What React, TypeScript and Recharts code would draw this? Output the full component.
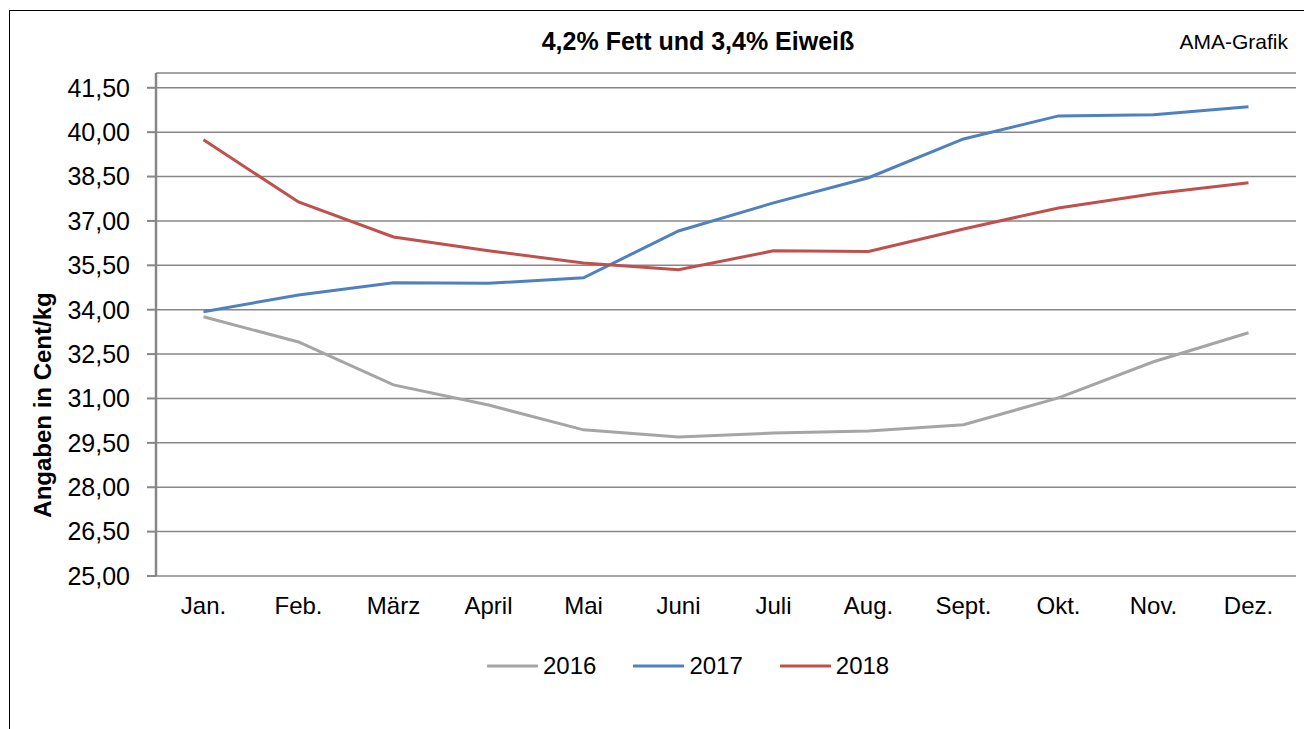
import React from "react";
import {
  LineChart,
  Line,
  XAxis,
  YAxis,
  CartesianGrid,
  Legend,
} from "recharts";

const months = ["Jan.", "Feb.", "März", "April", "Mai", "Juni", "Juli", "Aug.", "Sept.", "Okt.", "Nov.", "Dez."];

const values2016 = [33.76, 32.91, 31.46, 30.78, 29.94, 29.7, 29.83, 29.9, 30.11, 31.02, 32.24, 33.22];
const values2017 = [33.93, 34.5, 34.91, 34.89, 35.08, 36.66, 37.61, 38.46, 39.77, 40.55, 40.59, 40.86];
const values2018 = [39.74, 37.64, 36.46, 35.99, 35.58, 35.35, 35.99, 35.97, 36.73, 37.44, 37.92, 38.29];

const yTicks = [25, 26.5, 28, 29.5, 31, 32.5, 34, 35.5, 37, 38.5, 40, 41.5];
const yDomain = [25, 42];

const series = [
  { key: "2016", color: "#A5A5A5" },
  { key: "2017", color: "#4F81BD" },
  { key: "2018", color: "#C0504D" },
];

const data = months.map((m, i) => ({
  month: m,
  "2016": values2016[i],
  "2017": values2017[i],
  "2018": values2018[i],
}));

// band boundaries for the little x tick marks (0..12)
const boundaryTicks = [...months.map((_, i) => i), months.length];

const FONT = '"Liberation Sans", Arial, sans-serif';
const GRID = "#878787";

const fmt = (v: number) => v.toFixed(2).replace(".", ",");

const NoTick = () => <g />;

const YLabel = () => (
  <text
    x={42}
    y={405}
    transform="rotate(-90, 42, 405)"
    textAnchor="middle"
    dominantBaseline="central"
    fontFamily={FONT}
    fontWeight="bold"
    fontSize={24}
    fill="#000"
  >
    Angaben in Cent/kg
  </text>
);

const LegendContent = (props: any) => (
  <div style={{ display: "flex", alignItems: "center", fontFamily: FONT, fontSize: 24 }}>
    {(props.payload || []).map((p: any, i: number) => (
      <div key={p.value} style={{ display: "flex", alignItems: "center", marginLeft: i === 0 ? 0 : 37 }}>
        <svg width={51} height={28}>
          <line x1={1} y1={14} x2={50} y2={14} stroke={p.color} strokeWidth={3} strokeLinecap="round" />
        </svg>
        <span style={{ marginLeft: 5, lineHeight: "28px", color: "#000" }}>{p.value}</span>
      </div>
    ))}
  </div>
);

export default function App() {
  return (
    <div style={{ position: "relative", width: 1304, height: 729, overflow: "hidden", background: "#fff", fontFamily: FONT }}>
      <style>{`body{margin:0;}`}</style>
      <div
        style={{
          position: "absolute",
          left: 9,
          top: 10,
          width: 1400,
          height: 800,
          border: "1px solid #000",
          boxSizing: "border-box",
        }}
      />
      <div
        style={{
          position: "absolute",
          left: 698,
          top: 29,
          transform: "translateX(-50%)",
          fontSize: 25,
          fontWeight: "bold",
          lineHeight: "25px",
          whiteSpace: "nowrap",
          color: "#000",
        }}
      >
        4,2% Fett und 3,4% Eiweiß
      </div>
      <div
        style={{
          position: "absolute",
          right: 16,
          top: 30,
          fontSize: 21,
          lineHeight: "23px",
          whiteSpace: "nowrap",
          color: "#000",
        }}
      >
        AMA-Grafik
      </div>
      <div style={{ position: "absolute", left: 0, top: 0 }}>
        <LineChart width={1304} height={729} data={data} margin={{ top: 73, right: 8, left: 0, bottom: 113 }}>
          <CartesianGrid vertical={false} stroke={GRID} strokeWidth={1.5} />
          {/* plot frame: top and right edges */}
          <XAxis
            xAxisId="top"
            orientation="top"
            type="number"
            domain={[0, months.length]}
            height={0}
            tick={false}
            tickLine={false}
            axisLine={{ stroke: "#000", strokeWidth: 1.5 }}
          />
          <YAxis
            yAxisId="right"
            orientation="right"
            domain={yDomain}
            width={0}
            tick={false}
            tickLine={false}
            axisLine={{ stroke: "#000", strokeWidth: 1.5 }}
          />
          <XAxis
            xAxisId="b"
            type="number"
            domain={[0, months.length]}
            ticks={boundaryTicks}
            interval={0}
            height={0}
            tick={NoTick}
            tickSize={9}
            tickLine={{ stroke: GRID, strokeWidth: 2 }}
            axisLine={{ stroke: GRID, strokeWidth: 2.5 }}
          />
          <XAxis
            dataKey="month"
            scale="band"
            interval={0}
            height={40}
            tickSize={0}
            tickMargin={21}
            axisLine={false}
            tickLine={false}
            tick={{ fill: "#000", fontSize: 24, fontFamily: FONT }}
          />
          <YAxis
            domain={yDomain}
            ticks={yTicks}
            interval={0}
            width={156}
            tickSize={9}
            tickMargin={17}
            tickFormatter={fmt}
            tick={{ fill: "#000", fontSize: 25, fontFamily: FONT }}
            tickLine={{ stroke: GRID, strokeWidth: 2 }}
            axisLine={{ stroke: GRID, strokeWidth: 2.5 }}
            label={<YLabel />}
          />
          {series.map((s) => (
            <Line
              key={s.key}
              dataKey={s.key}
              stroke={s.color}
              strokeWidth={3}
              dot={false}
              activeDot={false}
              type="linear"
              isAnimationActive={false}
            />
          ))}
          <Legend
            layout="horizontal"
            verticalAlign="middle"
            align="center"
            wrapperStyle={{ left: 487, top: 652, width: "auto", height: 28 }}
            content={<LegendContent />}
          />
        </LineChart>
      </div>
    </div>
  );
}
